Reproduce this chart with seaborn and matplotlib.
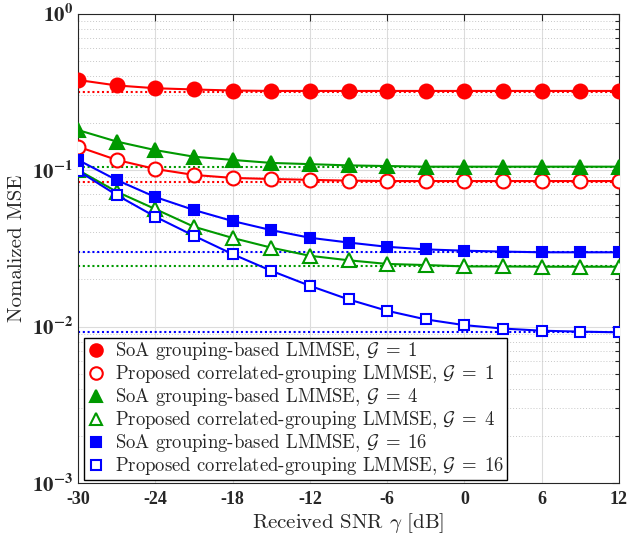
import numpy as np
import pandas as pd
import seaborn as sns
import matplotlib.pyplot as plt
from matplotlib.font_manager import FontProperties
from matplotlib.lines import Line2D
from matplotlib.ticker import FixedLocator, FuncFormatter, LogLocator, NullFormatter

# data
snr_db = [-30, -27, -24, -21, -18, -15, -12, -9, -6, -3, 0, 3, 6, 9, 12]

soa_g1 = [0.376, 0.347, 0.333, 0.327, 0.322, 0.320, 0.320, 0.320, 0.320,
          0.320, 0.320, 0.320, 0.320, 0.320, 0.320]
prop_g1 = [0.141, 0.116, 0.1015, 0.093, 0.089, 0.0876, 0.0865, 0.0855, 0.085,
           0.085, 0.085, 0.085, 0.085, 0.085, 0.085]
soa_g4 = [0.180, 0.152, 0.134, 0.1216, 0.116, 0.111, 0.109, 0.107, 0.106,
          0.105, 0.105, 0.105, 0.105, 0.105, 0.105]
prop_g4 = [0.100, 0.0727, 0.0563, 0.0434, 0.0368, 0.0319, 0.0283, 0.0265, 0.0251,
           0.0247, 0.0242, 0.0242, 0.0241, 0.0241, 0.0241]
soa_g16 = [0.116, 0.0863, 0.0672, 0.0555, 0.0472, 0.0413, 0.0369, 0.0344, 0.0323,
           0.0311, 0.0305, 0.0301, 0.0298, 0.0298, 0.0298]
prop_g16 = [0.099, 0.0692, 0.0503, 0.038, 0.029, 0.0227, 0.0182, 0.0149, 0.0126,
            0.0111, 0.0102, 0.0097, 0.0094, 0.00927, 0.00918]

# asymptotic floors (dotted lines)
floor_x = [-30, 12]
floors = {'r': [0.315, 0.0841], 'g': [0.104, 0.0243], 'b': [0.0299, 0.0092]}

labels = [r'SoA grouping-based LMMSE, $\mathcal{G}\;=\;1$',
          r'Proposed correlated-grouping LMMSE, $\mathcal{G}\;=\;1$',
          r'SoA grouping-based LMMSE, $\mathcal{G}\;=\;4$',
          r'Proposed correlated-grouping LMMSE, $\mathcal{G}\;=\;4$',
          r'SoA grouping-based LMMSE, $\mathcal{G}\;=\;16$',
          r'Proposed correlated-grouping LMMSE, $\mathcal{G}\;=\;16$']
series = [soa_g1, prop_g1, soa_g4, prop_g4, soa_g16, prop_g16]

df = pd.concat([pd.DataFrame({'snr': snr_db, 'mse': s, 'series': lab})
                for s, lab in zip(series, labels)], ignore_index=True)

red, green, blue = '#ff0000', '#009900', '#0000ff'
styles = [
    dict(color=red, marker='o', ms=10, mfc=red),
    dict(color=red, marker='o', ms=10, mfc='white'),
    dict(color=green, marker='^', ms=10, mfc=green),
    dict(color=green, marker='^', ms=10, mfc='white'),
    dict(color=blue, marker='s', ms=7.5, mfc=blue),
    dict(color=blue, marker='s', ms=7.5, mfc='white'),
]

sns.set_style('white')
plt.rcParams['font.family'] = ['Liberation Serif', 'DejaVu Serif']
plt.rcParams['mathtext.fontset'] = 'stix'

fig = plt.figure(figsize=(6.44, 5.35), dpi=100)
ax = fig.add_axes([78 / 644, 1 - 483 / 535, 541 / 644, 469.5 / 535])

# dotted floors
for col, vals in floors.items():
    c = {'r': red, 'g': green, 'b': blue}[col]
    for v in vals:
        sns.lineplot(x=floor_x, y=[v, v], ax=ax, color=c, lw=1.5,
                     linestyle=(0, (1, 1.3)), legend=False, zorder=2)

handles = []
for lab, st in zip(labels, styles):
    sns.lineplot(data=df[df['series'] == lab], x='snr', y='mse', ax=ax,
                 color=st['color'], lw=1.5, marker=st['marker'],
                 markersize=st['ms'], markerfacecolor=st['mfc'],
                 markeredgecolor=st['color'], markeredgewidth=1.5,
                 legend=False, errorbar=None, zorder=3)
    handles.append(Line2D([], [], ls='none', marker=st['marker'],
                          markersize=st['ms'] * 0.9, markerfacecolor=st['mfc'],
                          markeredgecolor=st['color'], markeredgewidth=1.5))

ax.set_yscale('log')
ax.set_xlim(-30, 12)
ax.set_ylim(1e-3, 1e0)
ax.xaxis.set_major_locator(FixedLocator([-30, -24, -18, -12, -6, 0, 6, 12]))
ax.set_xticklabels(['-30', '-24', '-18', '-12', '-6', '0', '6', '12'],
                   fontweight='bold', fontsize=13)
ax.yaxis.set_major_locator(FixedLocator([1e-3, 1e-2, 1e-1, 1e0]))
ax.yaxis.set_major_formatter(FuncFormatter(
    lambda v, p: r'$\mathbf{10^{%d}}$' % int(round(np.log10(v)))))
ax.yaxis.set_minor_locator(LogLocator(base=10, subs=np.arange(2, 10)))
ax.yaxis.set_minor_formatter(NullFormatter())
for t in ax.get_yticklabels():
    t.set_fontsize(15)

ax.tick_params(which='both', direction='in', top=True, right=True,
               colors='#262626', labelcolor='#262626')
ax.tick_params(which='major', length=5, width=0.8)
ax.tick_params(which='minor', length=3, width=0.8)
ax.tick_params(axis='x', pad=6)

ax.grid(True, which='major', color='#dcdcdc', lw=0.8, ls='-')
ax.grid(True, which='minor', axis='y', color='#c8c8c8', lw=0.7, ls=(0, (1, 2)))
ax.set_axisbelow(True)
for sp in ax.spines.values():
    sp.set_color('#262626')
    sp.set_linewidth(0.8)

cm_label = FontProperties(family='cmr10', size=15, math_fontfamily='cm')
ax.set_xlabel(r'Received SNR $\gamma$ [dB]', fontproperties=cm_label, labelpad=2)
ax.set_ylabel('Nomalized MSE', fontproperties=cm_label, labelpad=4)

leg_prop = FontProperties(family='cmr10', size=13.5, math_fontfamily='cm')
leg = ax.legend(handles, labels, loc='lower left', bbox_to_anchor=(6 / 541, 3 / 469.5),
                borderaxespad=0, prop=leg_prop, frameon=True, fancybox=False,
                edgecolor='black', framealpha=1, handlelength=1.0,
                handletextpad=0.5, labelspacing=0.05, borderpad=0.15)
leg.get_frame().set_linewidth(1.0)

fig.savefig('out.png', dpi=100)
